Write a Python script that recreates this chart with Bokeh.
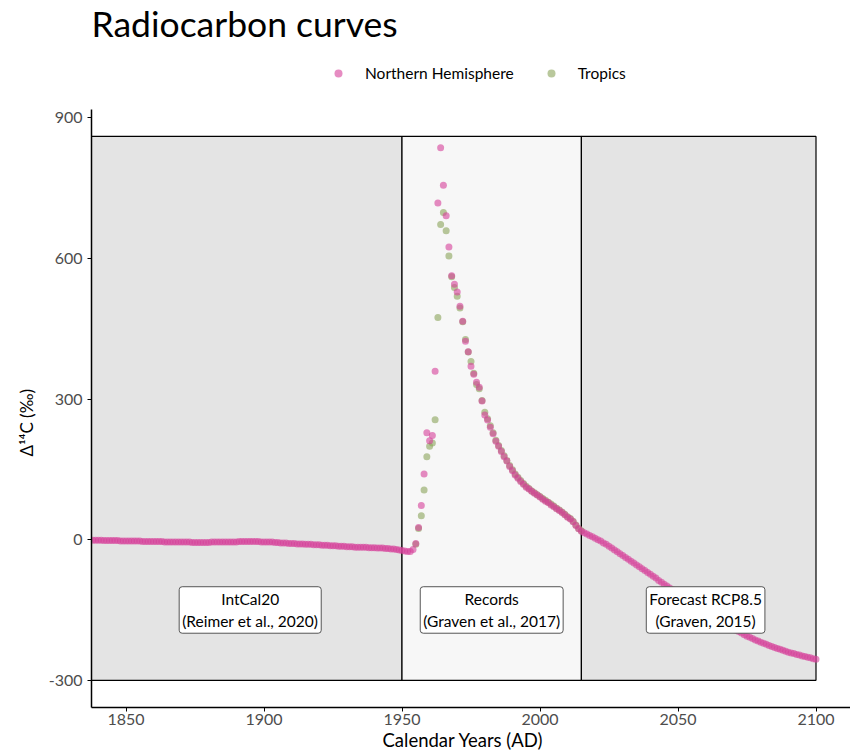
from bokeh.plotting import figure
from bokeh.models import (Range1d, FixedTicker, Legend, LegendItem, Label, Title,
                          ColumnDataSource)
from bokeh.embed import file_html
from bokeh.resources import INLINE

FONT = "Lato"

# ---------------- data ----------------
intcal_years = list(range(1838, 1950))
intcal_d14c = [
    -1, -1, -1, -1, -2, -2, -2, -2, -2, -2, -3, -3,
    -3, -3, -3, -3, -3, -3, -4, -4, -4, -4, -4, -4, -4, -4, -5, -5, -5, -5, -5, -5,
    -5, -5, -5, -5, -6, -6, -6, -6, -6, -6, -6, -5, -5, -5, -5, -5, -5, -5, -5, -5,
    -5, -4, -4, -4, -4, -4, -4, -4, -4, -5, -5, -5, -5, -5, -6, -6, -7, -7, -7, -8,
    -8, -8, -9, -9, -9, -10, -10, -10, -11, -11, -11, -12, -12, -12, -13, -13, -13, -14, -14, -14,
    -15, -15, -15, -16, -16, -16, -16, -16, -17, -17, -17, -18, -18, -18, -19, -19, -20, -20, -21, -22,
]

nh_record_years = list(range(1950, 2015))
nh_record_d14c = [
    -23, -24, -25, -25, -21, -8, 26, 73, 140, 228,
    211, 222, 359, 718, 836, 756, 691, 624, 563, 545,
    528, 498, 466, 423, 401, 370, 353, 336, 325, 296,
    266, 255, 240, 226, 210, 199, 188, 177, 168, 156,
    147, 138, 131, 124, 118, 112, 108, 103, 99, 95,
    91, 86, 82, 79, 74, 70, 66, 62, 58, 53,
    48, 44, 38, 30, 23,
]

forecast_years = list(range(2015, 2101))
forecast_d14c = [
    18, 15, 12, 9, 6, 3, 0, -3, -7, -10,
    -14, -18, -22, -26, -30, -34, -38, -42, -46, -50,
    -54, -58, -62, -66, -70, -74, -78, -82, -87, -91,
    -95, -99, -103, -107, -111, -115, -119, -123, -126, -130,
    -134, -138, -142, -146, -149, -153, -157, -161, -165, -168,
    -172, -176, -179, -183, -186, -190, -193, -196, -199, -203,
    -206, -208, -211, -214, -216, -219, -221, -223, -226, -228,
    -230, -232, -234, -236, -238, -240, -242, -243, -245, -246,
    -248, -249, -251, -252, -254, -255,
]

tropics_years = list(range(1955, 2016))
tropics_d14c = [
    -10, 24, 51, 106, 177, 199, 206, 256, 474, 672,
    698, 659, 605, 561, 538, 519, 494, 465, 427, 400,
    380, 355, 331, 322, 297, 272, 258, 243, 228, 212,
    201, 190, 179, 169, 158, 149, 140, 133, 126, 120,
    114, 109, 104, 100, 96, 92, 88, 84, 80, 76,
    72, 67, 63, 59, 54, 49, 45, 39, 31, 24,
    19,
]

period_left = [1800, 1950, 2015]
period_right = [1950, 2015, 2100]
period_bottom = [-300, -300, -300]
period_top = [860, 860, 860]
period_fill = ["#e4e4e4", "#f7f7f7", "#e4e4e4"]

label_x = [1895, 1982.5, 2060]
label_y = [-150, -150, -150]
label_text = ["IntCal20\n(Reimer et al., 2020)",
              "Records\n(Graven et al., 2017)",
              "Forecast RCP8.5\n(Graven, 2015)"]

x_ticks = [1850, 1900, 1950, 2000, 2050, 2100]
y_ticks = [-300, 0, 300, 600, 900]
y_tick_labels = {-300: "-300", 0: "0", 300: "300", 600: "600", 900: "900"}

NH_COLOR = "#d6409a"
TR_COLOR = "#8aa35a"

Y_LOW, Y_AXIS_TOP, Y_FRAME_TOP = -358, 918, 1150

# ---------------- figure ----------------
p = figure(width=850, height=751, output_backend="svg", toolbar_location=None,
           x_range=Range1d(1837.5, 2112.5), y_range=Range1d(Y_LOW, Y_FRAME_TOP),
           min_border_left=91, min_border_right=0, min_border_top=0,
           min_border_bottom=44, background_fill_color="white",
           border_fill_color="white")
p.outline_line_color = None
p.xgrid.visible = False
p.ygrid.visible = False

p.quad(left=period_left, right=period_right, bottom=period_bottom, top=period_top,
       fill_color=period_fill, line_color="black", line_width=1.2)

tr_src = ColumnDataSource(dict(x=tropics_years, y=tropics_d14c))
nh_src = ColumnDataSource(dict(x=intcal_years + nh_record_years + forecast_years,
                               y=intcal_d14c + nh_record_d14c + forecast_d14c))

r_tr = p.scatter("x", "y", source=tr_src, size=7, fill_color=TR_COLOR,
                 line_color=None, fill_alpha=0.6)
r_nh = p.scatter("x", "y", source=nh_src, size=7, fill_color=NH_COLOR,
                 line_color=None, fill_alpha=0.6)

for lx, ly, lt in zip(label_x, label_y, label_text):
    p.add_layout(Label(x=lx, y=ly, text=lt, text_align="center",
                       text_baseline="middle", text_font=FONT,
                       text_font_size="15.5px", text_color="black",
                       text_line_height=1.25,
                       background_fill_color="white", background_fill_alpha=1,
                       border_line_color="#555555", border_line_width=1,
                       padding=3, border_radius=3))

# title (top-left, aligned with the plotting area)
p.add_layout(Label(x=1837.5, y=1102, text="Radiocarbon curves", text_font=FONT,
                   text_font_size="35.5px", text_color="black",
                   text_align="left", text_baseline="alphabetic"))

for ax in (p.xaxis[0], p.yaxis[0]):
    ax.axis_line_color = "black"
    ax.axis_line_width = 1.5
    ax.major_tick_line_color = "black"
    ax.major_tick_line_width = 1
    ax.major_tick_in = 0
    ax.major_tick_out = 4
    ax.minor_tick_line_color = None
    ax.major_label_text_color = "#4d4d4d"
    ax.major_label_text_font = FONT
    ax.major_label_text_font_size = "16px"

p.xaxis.ticker = FixedTicker(ticks=x_ticks)
p.yaxis.ticker = FixedTicker(ticks=y_ticks)
p.yaxis.major_label_overrides = y_tick_labels
p.yaxis.bounds = (Y_LOW, Y_AXIS_TOP)
p.xaxis.major_label_standoff = 2
p.yaxis.major_label_standoff = 5

# axis titles
ytitle = Title(text="Δ¹⁴C (‰)", text_font=FONT, text_font_size="17px",
               text_font_style="normal", text_color="black", align="left",
               vertical_align="middle", offset=251, standoff=16)
p.add_layout(ytitle, "left")

xtitle = Title(text="Calendar Years (AD)", text_font=FONT, text_font_size="18.5px",
               text_font_style="normal", text_color="black", align="left",
               vertical_align="middle", offset=291, standoff=0)
p.add_layout(xtitle, "below")

legend = Legend(items=[LegendItem(label="Northern Hemisphere", renderers=[r_nh]),
                       LegendItem(label="Tropics", renderers=[r_tr])],
                orientation="horizontal", location=(237, 624),
                glyph_width=20, glyph_height=20, label_standoff=17, spacing=27,
                label_text_font=FONT, label_text_font_size="15.5px",
                label_text_color="black", border_line_color=None,
                background_fill_alpha=0, padding=0, margin=0)
p.add_layout(legend, "center")

open("out.html", "w").write(file_html(p, INLINE))
